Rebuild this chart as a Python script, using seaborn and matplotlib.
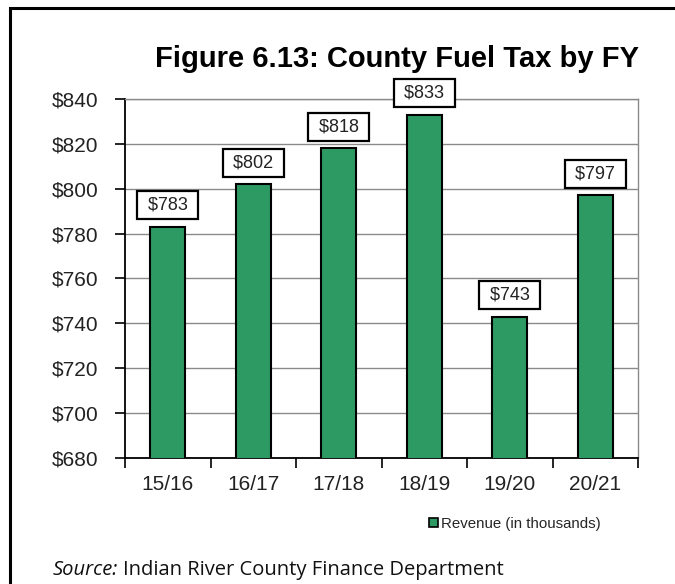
import matplotlib
matplotlib.use("Agg")
import matplotlib.pyplot as plt
import matplotlib.patches as mpatches
from matplotlib.ticker import FixedLocator
from matplotlib.transforms import offset_copy
import seaborn as sns
import pandas as pd

# ---- data ----
years = ["15/16", "16/17", "17/18", "18/19", "19/20", "20/21"]
revenue = [783, 802, 818, 833, 743, 797]
y_ticks = [680, 700, 720, 740, 760, 780, 800, 820, 840]
title = "Figure 6.13: County Fuel Tax by FY"
series_name = "Revenue (in thousands)"
source_label = "Source:"
source_text = "Indian River County Finance Department"

df = pd.DataFrame({"FY": years, "Revenue": revenue})

sns.set_theme(style="white")
plt.rcParams["font.family"] = ["Liberation Sans", "DejaVu Sans"]

W, H = 675, 584
fig = plt.figure(figsize=(W / 100, H / 100), dpi=100)
ax = fig.add_axes([125 / W, 1 - 458 / H, (638 - 125) / W, (458 - 99) / H])

bar_color = "#2E9A63"
sns.barplot(data=df, x="FY", y="Revenue", color=bar_color, saturation=1,
            width=0.41, edgecolor="black", linewidth=1.5, ax=ax,
            label=series_name, zorder=3)

ax.set_ylim(y_ticks[0], y_ticks[-1])
ax.set_yticks(y_ticks)
ax.set_yticklabels([f"${v}" for v in y_ticks])
ax.set_xlim(-0.5, len(years) - 0.5)
ax.set_xlabel("")
ax.set_ylabel("")

ax.yaxis.grid(True, color="#8a8a8a", linewidth=1.0, zorder=0)
ax.set_axisbelow(True)

for s in ["left", "bottom"]:
    ax.spines[s].set_color("black")
    ax.spines[s].set_linewidth(1.3)
for s in ["top", "right"]:
    ax.spines[s].set_color("#8a8a8a")
    ax.spines[s].set_linewidth(1.0)

ax.tick_params(axis="y", which="major", left=True, length=7, width=1.2,
               color="black", labelsize=15, labelcolor="#222222", pad=12)
ax.tick_params(axis="x", which="major", bottom=False, labelsize=15,
               labelcolor="#222222", pad=6)
ax.xaxis.set_minor_locator(FixedLocator([i - 0.5 for i in range(len(years) + 1)]))
ax.tick_params(axis="x", which="minor", bottom=True, length=7, width=1.2,
               color="black")

# value labels in boxes
for i, v in enumerate(revenue):
    ax.annotate(f" ${v} ", xy=(i, v), xytext=(0, 15.5), textcoords="offset points",
                ha="center", va="center", fontsize=13, color="#222222",
                bbox=dict(boxstyle="square,pad=0.3", fc="white", ec="black",
                          lw=1.6), zorder=5)

if ax.get_legend() is not None:
    ax.get_legend().remove()

# legend
handle = mpatches.Patch(facecolor=bar_color, edgecolor="black", linewidth=1.2)
fig.legend([handle], [series_name], loc="center left",
           bbox_to_anchor=(429 / W, 1 - 524 / H), frameon=False,
           fontsize=10.8, handlelength=0.6, handleheight=0.6,
           handletextpad=0.2, borderpad=0, borderaxespad=0)

# title
fig.text(397 / W, 1 - 67 / H, title, ha="center", va="baseline",
         fontsize=21, fontweight="bold", color="black")

# source line
src_font = ["Open Sans", "DejaVu Sans"]
t1 = fig.text(53 / W, 1 - 575 / H, source_label, ha="left", va="baseline",
              fontsize=14.5, style="italic", family=src_font, color="#111111")
fig.canvas.draw()
bb = t1.get_window_extent(renderer=fig.canvas.get_renderer())
fig.text(bb.x1 / W + 5 / W, 1 - 575 / H, source_text,
         ha="left", va="baseline", fontsize=14.5, family=src_font,
         color="#111111")

# outer frame
frame = mpatches.Rectangle((10 / W, -0.1), 1.2, 1.1 - 8 / H,
                           transform=fig.transFigure, fill=False,
                           edgecolor="black", linewidth=2.2)
fig.patches.append(frame)

fig.savefig("out.png", dpi=100)
